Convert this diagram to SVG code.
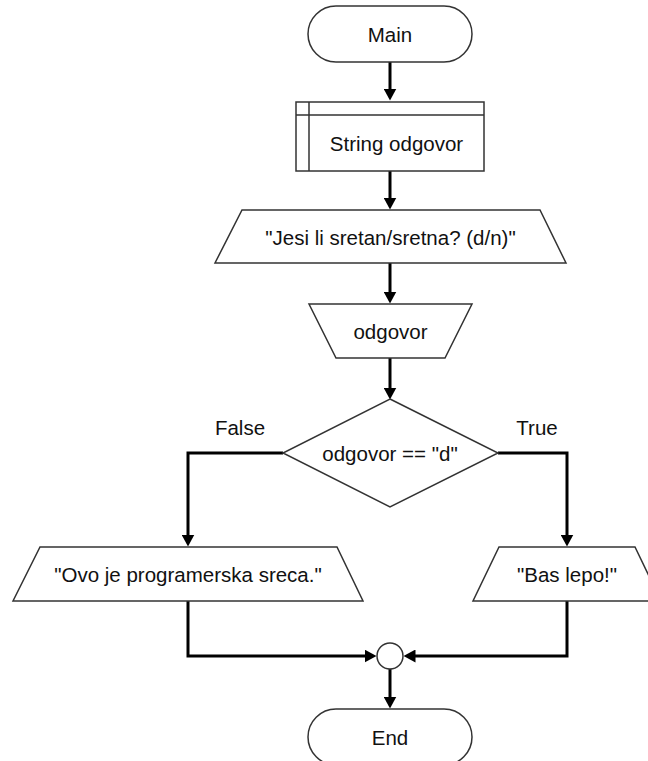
<svg xmlns="http://www.w3.org/2000/svg" width="648" height="761" viewBox="0 0 648 761">
<style>
.shape{fill:#fff;stroke:#333;stroke-width:1.5}
.edge{fill:none;stroke:#000;stroke-width:3}
text{font-family:"Liberation Sans",Arial,sans-serif;font-size:20.5px;fill:#111;text-anchor:middle;dominant-baseline:central}
</style>
<defs>
<marker id="arr" viewBox="0 0 12 13" markerWidth="12" markerHeight="13" refX="0.5" refY="6.5" orient="auto" markerUnits="userSpaceOnUse">
<path d="M0,0 L12,6.5 L0,13 Z" fill="#000"/>
</marker>
</defs>
<rect width="648" height="761" fill="#fff"/>
<g id="connectors">
<path class="edge" d="M390,62 V89" marker-end="url(#arr)"/>
<path class="edge" d="M390,171 V198" marker-end="url(#arr)"/>
<path class="edge" d="M390,263 V292" marker-end="url(#arr)"/>
<path class="edge" d="M390,358 V388" marker-end="url(#arr)"/>
<path class="edge" d="M283,453 H188 V535" marker-end="url(#arr)"/>
<path class="edge" d="M498,453 H567 V535" marker-end="url(#arr)"/>
<path class="edge" d="M188,601 V656 H365" marker-end="url(#arr)"/>
<path class="edge" d="M567,601 V656 H415" marker-end="url(#arr)"/>
<path class="edge" d="M390,669 V697" marker-end="url(#arr)"/>
</g>
<g id="main">
<rect class="shape" x="308" y="6" width="164" height="56" rx="28" ry="28"/>
<text x="390" y="34">Main</text>
</g>
<g id="declare">
<rect class="shape" x="296" y="102" width="188" height="69"/>
<path class="shape" d="M296,115 H484 M309,102 V171" fill="none"/>
<text x="396.5" y="143">String odgovor</text>
</g>
<g id="output1">
<polygon class="shape" points="242,210 540,210 566,263 215,263"/>
<text x="390.5" y="237">"Jesi li sretan/sretna? (d/n)"</text>
</g>
<g id="input1">
<polygon class="shape" points="309,304 472,304 445,358 336,358"/>
<text x="390.5" y="331">odgovor</text>
</g>
<g id="decision">
<polygon class="shape" points="390,399 498,453 390,507 283,453"/>
<text x="390" y="453">odgovor == "d"</text>
</g>
<text x="240" y="427">False</text>
<text x="537" y="427">True</text>
<g id="output-false">
<polygon class="shape" points="40,547 337,547 363,601 13,601"/>
<text x="188" y="574">"Ovo je programerska sreca."</text>
</g>
<g id="output-true">
<polygon class="shape" points="499,547 635,547 661,601 473,601"/>
<text x="567" y="574">"Bas lepo!"</text>
</g>
<g id="merge">
<circle class="shape" cx="390" cy="656" r="13"/>
</g>
<g id="end">
<rect class="shape" x="308" y="709" width="164" height="56" rx="28" ry="28"/>
<text x="390" y="737">End</text>
</g>
</svg>
